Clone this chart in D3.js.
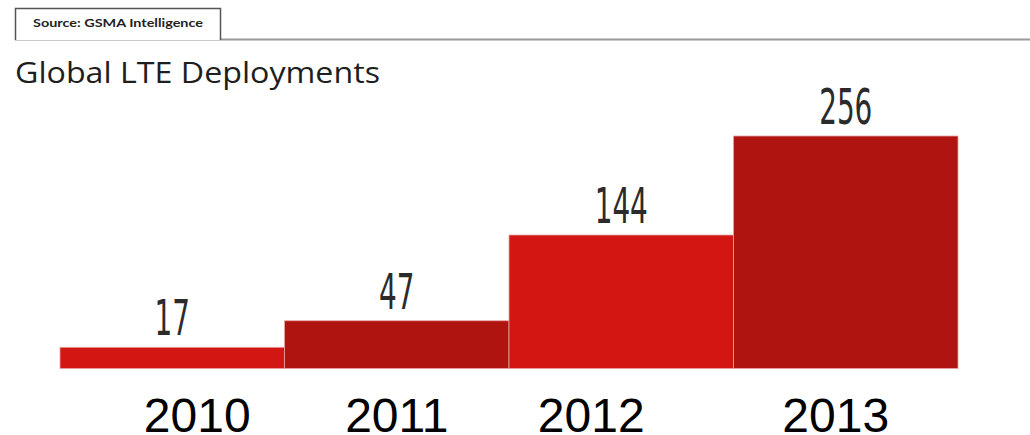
<!DOCTYPE html>
<html>
<head>
<meta charset="utf-8">
<script src="https://cdn.jsdelivr.net/npm/d3@7"></script>
<style>
  html, body { margin: 0; padding: 0; background: #fff; }
  svg { display: block; }
</style>
</head>
<body>
<div id="chart"></div>
<script>
// Global LTE deployments per year (GSMA Intelligence)
const years = ['2010', '2011', '2012', '2013']
const deployments = [17, 47, 144, 256]
const barColors = ['#d21713', '#b01411', '#d21713', '#b01411']

const width = 1030
const height = 435
const plot = { left: 60, right: 958, top: 136, bottom: 368.5 }

// the year labels in the source sit a little off the bar centres
const yearNudge = [25, 0, -30, -10]

const svg = d3.select('#chart')
  .append('svg')
  .attr('width', width)
  .attr('height', height)

// Source tab + rule
svg.append('line')
  .attr('x1', 15).attr('x2', width)
  .attr('y1', 39.5).attr('y2', 39.5)
  .attr('stroke', '#9a9a9a')
  .attr('stroke-width', 2)

svg.append('path')
  .attr('d', 'M15.5,40 V8.5 H220.5 V40')
  .attr('fill', '#fff')
  .attr('stroke', '#555')
  .attr('stroke-width', 1.5)

svg.append('text')
  .attr('x', 33)
  .attr('y', 27)
  .attr('textLength', 170)
  .attr('lengthAdjust', 'spacingAndGlyphs')
  .attr('font-family', 'Lato, "Open Sans", sans-serif')
  .attr('font-weight', 'bold')
  .attr('font-size', '11.5px')
  .attr('fill', '#222')
  .text('Source: GSMA Intelligence')

// Title
svg.append('text')
  .attr('x', 15)
  .attr('y', 83)
  .attr('textLength', 365)
  .attr('lengthAdjust', 'spacingAndGlyphs')
  .attr('font-family', '"Open Sans", Lato, sans-serif')
  .attr('font-size', '29px')
  .attr('fill', '#1e1e1e')
  .text('Global LTE Deployments')

// Scales
const x = d3.scaleBand()
  .domain(years)
  .range([plot.left, plot.right])
  .padding(0)

const y = d3.scaleLinear()
  .domain([-7, 256])
  .range([plot.bottom, plot.top])

// Bars
svg.append('g')
  .selectAll('rect')
  .data(years)
  .join('rect')
  .attr('x', d => x(d))
  .attr('y', (d, i) => y(deployments[i]))
  .attr('width', x.bandwidth())
  .attr('height', (d, i) => plot.bottom - y(deployments[i]))
  .attr('fill', (d, i) => barColors[i])
  .attr('stroke', '#e9a3a3')
  .attr('stroke-width', 0.8)

// Value labels (tall condensed numerals)
svg.append('g')
  .selectAll('text')
  .data(years)
  .join('text')
  .attr('transform', (d, i) => `translate(${x(d) + x.bandwidth() / 2},${y(deployments[i]) - 12}) scale(0.62,1)`)
  .attr('text-anchor', 'middle')
  .attr('font-family', '"Liberation Sans Narrow", "DejaVu Sans Condensed", sans-serif')
  .attr('font-size', '50px')
  .attr('fill', '#2b2b2b')
  .text((d, i) => deployments[i])

// Year axis labels
const xAxis = d3.axisBottom(x).tickSize(0).tickPadding(0)
const axisG = svg.append('g')
  .attr('transform', `translate(0,${plot.bottom})`)
  .call(xAxis)

axisG.select('.domain').remove()
axisG.selectAll('.tick text')
  .attr('transform', (d, i) => `translate(${yearNudge[i]},0)`)
  .attr('y', 63)
  .attr('dy', 0)
  .attr('font-family', '"Liberation Sans", Arial, sans-serif')
  .attr('font-size', '48px')
  .attr('fill', '#000')
</script>
</body>
</html>
